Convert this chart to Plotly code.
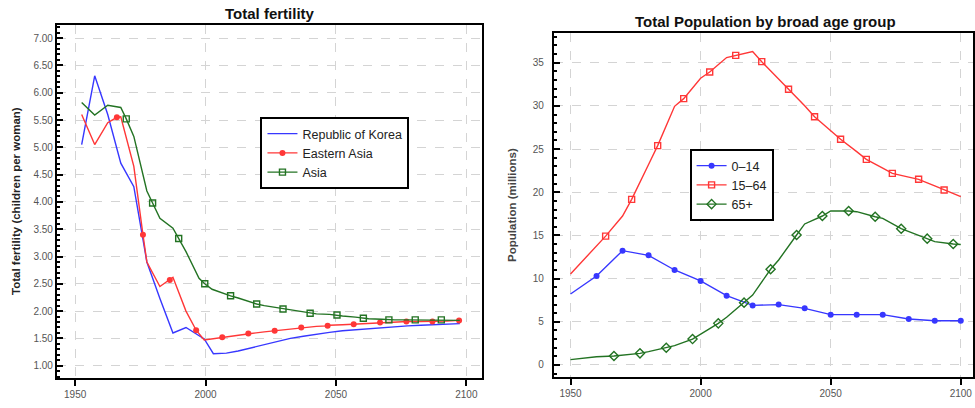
import plotly.graph_objects as go

# ---------------- Left chart: Total fertility ----------------
korea_years = [1952.5, 1957.5, 1962.5, 1967.5, 1972.5, 1977.5, 1982.5, 1987.5, 1992.5, 1999.5,
               2003, 2008, 2012.5, 2017.5, 2022.5, 2027.5, 2032.5, 2037.5, 2042.5, 2047.5,
               2052.5, 2057.5, 2062.5, 2067.5, 2072.5, 2077.5, 2082.5, 2087.5, 2092.5, 2097.5]
korea_tfr = [5.05, 6.31, 5.60, 4.71, 4.28, 2.90, 2.23, 1.60, 1.70, 1.49,
             1.22, 1.23, 1.27, 1.33, 1.39, 1.45, 1.50, 1.54, 1.58, 1.61,
             1.64, 1.66, 1.68, 1.70, 1.71, 1.73, 1.74, 1.75, 1.76, 1.77]

east_years = [1952.5, 1957.5, 1962.5, 1967.5, 1972.5, 1977.5, 1982.5, 1987.5, 1992.5, 1999.5,
              2007.5, 2012.5, 2017.5, 2022.5, 2027.5, 2032.5, 2037.5, 2042.5, 2047.5, 2052.5,
              2057.5, 2062.5, 2067.5, 2072.5, 2077.5, 2082.5, 2087.5, 2092.5, 2097.5]
east_tfr = [5.60, 5.05, 5.45, 5.56, 4.65, 2.90, 2.45, 2.62, 2.00, 1.47,
            1.53, 1.56, 1.59, 1.62, 1.65, 1.68, 1.70, 1.72, 1.74, 1.75,
            1.76, 1.78, 1.79, 1.80, 1.81, 1.81, 1.82, 1.82, 1.83]
east_mark_years = [1966.0, 1976.0, 1986.3, 1996.4, 2006.4, 2016.4, 2026.5, 2036.7, 2046.8,
                   2056.8, 2066.9, 2077.0, 2087.0, 2097.2]
east_mark_tfr = [5.55, 3.40, 2.57, 1.65, 1.52, 1.59, 1.64, 1.70, 1.73,
                 1.76, 1.79, 1.81, 1.81, 1.83]

asia_years = [1952.5, 1957.5, 1962.5, 1967.5, 1972.5, 1977.5, 1982.5, 1987.5, 1992.5, 1997.5,
              2002.5, 2007.5, 2012.5, 2017.5, 2022.5, 2027.5, 2032.5, 2037.5, 2042.5, 2047.5,
              2052.5, 2057.5, 2062.5, 2067.5, 2072.5, 2077.5, 2082.5, 2087.5, 2092.5, 2097.5]
asia_tfr = [5.82, 5.59, 5.77, 5.73, 5.20, 4.20, 3.70, 3.52, 3.09, 2.60,
            2.40, 2.31, 2.24, 2.16, 2.10, 2.06, 2.02, 1.98, 1.95, 1.94,
            1.91, 1.89, 1.86, 1.85, 1.84, 1.84, 1.83, 1.83, 1.83, 1.83]
asia_mark_years = [1969.6, 1979.7, 1989.7, 1999.7, 2009.6, 2019.6, 2029.7, 2040.1, 2050.4,
                   2060.5, 2070.3, 2080.4, 2090.4]
asia_mark_tfr = [5.52, 3.98, 3.33, 2.50, 2.28, 2.13, 2.04, 1.96, 1.93,
                 1.87, 1.84, 1.84, 1.84]

fert_ticks = [1.0, 1.5, 2.0, 2.5, 3.0, 3.5, 4.0, 4.5, 5.0, 5.5, 6.0, 6.5, 7.0]
year_ticks = [1950, 2000, 2050, 2100]

# ---------------- Right chart: population by broad age group ----------------
pop_years = [1950, 1960, 1970, 1980, 1990, 2000, 2010, 2020, 2030, 2040, 2050, 2060, 2070, 2080, 2090, 2100]
pop_0_14 = [8.22, 10.3, 13.24, 12.7, 11.0, 9.73, 8.03, 6.9, 6.99, 6.56, 5.83, 5.83, 5.83, 5.33, 5.13, 5.13]
pop_0_14_mark_years = [1960, 1970, 1980, 1990, 2000, 2010, 2020, 2030, 2040, 2050, 2060, 2070, 2080, 2090, 2100]
pop_0_14_mark = [10.3, 13.24, 12.7, 11.0, 9.73, 8.03, 6.9, 6.99, 6.56, 5.83, 5.83, 5.83, 5.33, 5.13, 5.13]

pop_15_64 = [10.54, 13.8, 17.25, 23.22, 29.95, 33.2, 35.6, 36.3, 33.14, 30.02, 27.15, 24.7, 22.8, 21.76, 20.73, 19.49]
pop_15_64_mark_years = [1963.5, 1973.5, 1983.5, 1993.5, 2003.5, 2013.5, 2023.5, 2033.8, 2043.8,
                        2053.8, 2063.7, 2073.7, 2083.8, 2093.6]
pop_15_64_mark = [14.92, 19.18, 25.4, 30.84, 33.92, 35.85, 35.12, 31.92, 28.75,
                  26.13, 23.81, 22.19, 21.5, 20.26]

pop_65 = [0.62, 0.96, 1.12, 1.54, 2.24, 3.55, 5.52, 8.1, 12.16, 16.33, 17.83, 17.75, 16.98, 15.44, 14.28, 13.95]
pop_65_mark_years = [1966.7, 1976.7, 1986.8, 1996.9, 2006.8, 2016.7, 2026.9, 2036.9, 2046.8,
                     2056.9, 2067.1, 2077.1, 2087.1, 2097.1]
pop_65_mark = [1.04, 1.35, 2.0, 3.0, 4.82, 7.22, 11.08, 15.05, 17.25,
               17.83, 17.17, 15.78, 14.63, 14.01]

pop_ticks = [0, 5, 10, 15, 20, 25, 30, 35]

# ---------------- styling ----------------
FONT = "Liberation Sans, Arial, sans-serif"
BLUE = "rgb(55,55,255)"
RED = "rgb(255,55,55)"
GREEN = "rgb(35,115,35)"


def merge(lx, ly, mx, my):
    pts = {}
    for x, y in zip(lx, ly):
        pts[x] = (y, False)
    for x, y in zip(mx, my):
        pts[x] = (y, True)
    xs = sorted(pts)
    ys = [pts[x][0] for x in xs]
    sel = [i for i, x in enumerate(xs) if pts[x][1]]
    return xs, ys, sel


def series(name, lx, ly, color, xa, ya, legend, mx=None, my=None, symbol=None, size=6, mlw=1.3):
    if mx is None:
        return go.Scatter(x=lx, y=ly, name=name, mode="lines", xaxis=xa, yaxis=ya, legend=legend,
                          line=dict(color=color, width=1.4))
    xs, ys, sel = merge(lx, ly, mx, my)
    return go.Scatter(x=xs, y=ys, name=name, mode="lines+markers", xaxis=xa, yaxis=ya, legend=legend,
                      line=dict(color=color, width=1.4),
                      marker=dict(symbol=symbol, size=size, color=color,
                                  line=dict(color=color, width=mlw)),
                      selectedpoints=sel,
                      selected=dict(marker=dict(opacity=1)),
                      unselected=dict(marker=dict(opacity=0)))


fig = go.Figure()
fig.add_trace(series("Republic of Korea", korea_years, korea_tfr, BLUE, "x", "y", "legend"))
fig.add_trace(series("Eastern Asia", east_years, east_tfr, RED, "x", "y", "legend",
                     east_mark_years, east_mark_tfr, "circle", 6, 0))
fig.add_trace(series("Asia", asia_years, asia_tfr, GREEN, "x", "y", "legend",
                     asia_mark_years, asia_mark_tfr, "square-open", 6, 1.4))

fig.add_trace(series("0–14", pop_years, pop_0_14, BLUE, "x2", "y2", "legend2",
                     pop_0_14_mark_years, pop_0_14_mark, "circle", 6, 0))
fig.add_trace(series("15–64", pop_years, pop_15_64, RED, "x2", "y2", "legend2",
                     pop_15_64_mark_years, pop_15_64_mark, "square-open", 6, 1.4))
fig.add_trace(series("65+", pop_years, pop_65, GREEN, "x2", "y2", "legend2",
                     pop_65_mark_years, pop_65_mark, "diamond-open", 7, 1.4))

common_axis = dict(showline=True, linecolor="black", linewidth=2, mirror=True,
                   showgrid=True, gridcolor="#d4d4d4", gridwidth=1, griddash="dash",
                   zeroline=False, tickcolor="black", tickwidth=1.5,
                   tickfont=dict(family=FONT, size=10, color="#555555"))

W, H = 975, 408
fig.update_layout(
    width=W, height=H,
    margin=dict(l=0, r=0, t=0, b=0),
    paper_bgcolor="white", plot_bgcolor="white",
    font=dict(family=FONT),
    xaxis=dict(domain=[57 / W, 483 / W], range=[1943, 2106], anchor="y",
               tickmode="array", tickvals=year_ticks, ticks="outside", ticklen=6,
               **common_axis),
    yaxis=dict(domain=[(H - 378) / H, (H - 25) / H], range=[0.775, 7.24], anchor="x",
               tickmode="array", tickvals=fert_ticks, tickformat=".2f",
               ticks="inside", ticklen=6,
               minor=dict(dtick=0.1, tick0=0, ticks="inside", ticklen=3, tickcolor="black",
                          tickwidth=1.5),
               **common_axis),
    xaxis2=dict(domain=[555 / W, 1.0], range=[1943.6, 2104.7], anchor="y2",
                tickmode="array", tickvals=year_ticks, ticks="outside", ticklen=6,
                **common_axis),
    yaxis2=dict(domain=[(H - 377) / H, (H - 33) / H], range=[-1.39, 38.44], anchor="x2",
                tickmode="array", tickvals=pop_ticks, ticks="inside", ticklen=6,
                ticklabelstandoff=6,
                minor=dict(dtick=1, tick0=0, ticks="inside", ticklen=3, tickcolor="black",
                           tickwidth=1.5),
                **common_axis),
    legend=dict(x=261 / W, y=(H - 117) / H, xanchor="left", yanchor="top",
                bgcolor="white", bordercolor="black", borderwidth=2,
                font=dict(family=FONT, size=12.5, color="#222222"), tracegroupgap=0),
    legend2=dict(x=691 / W, y=(H - 149) / H, xanchor="left", yanchor="top",
                 bgcolor="white", bordercolor="black", borderwidth=2,
                 font=dict(family=FONT, size=12.5, color="#222222"), tracegroupgap=0),
    annotations=[
        dict(text="<b>Total fertility</b>", x=271 / W, y=(H - 13) / H, xref="paper", yref="paper",
             xanchor="center", yanchor="middle", showarrow=False,
             font=dict(family=FONT, size=15, color="#111111")),
        dict(text="<b>Total Population by broad age group</b>", x=767 / W, y=(H - 21) / H,
             xref="paper", yref="paper", xanchor="center", yanchor="middle", showarrow=False,
             font=dict(family=FONT, size=15, color="#111111")),
        dict(text="<b>Total fertility (children per woman)</b>", x=16 / W, y=(H - 201) / H,
             xref="paper", yref="paper", xanchor="center", yanchor="middle",
             showarrow=False, textangle=-90,
             font=dict(family=FONT, size=11.5, color="#222222")),
        dict(text="<b>Population (millions)</b>", x=513 / W, y=(H - 205) / H,
             xref="paper", yref="paper", xanchor="center", yanchor="middle",
             showarrow=False, textangle=-90,
             font=dict(family=FONT, size=11.5, color="#444444")),
    ],
)

fig.write_html("out.html")
